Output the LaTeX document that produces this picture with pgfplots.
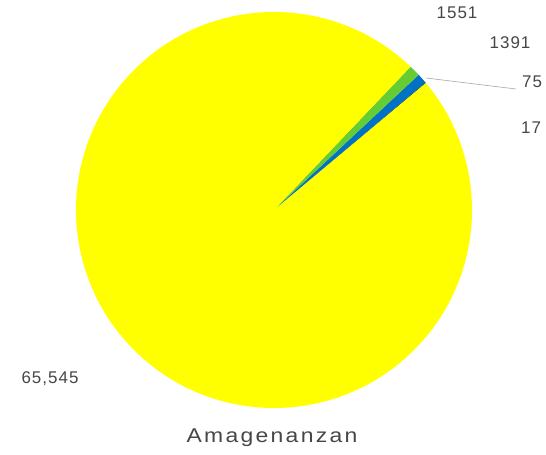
\documentclass[border=0pt]{standalone}
\usepackage{pgfplots}
\usepackage{pgfplotstable}
\pgfplotsset{compat=1.18}
\usepackage{fontspec}
\setmainfont{Liberation Sans}
\newfontfamily\lblfont[LetterSpace=6]{Liberation Sans}
\newfontfamily\ttlfont[LetterSpace=10]{Liberation Sans}
\definecolor{cyellow}{RGB}{255,255,0}
\definecolor{cgreen}{RGB}{102,204,51}
\definecolor{cblue}{RGB}{0,114,198}
\definecolor{cdark}{RGB}{30,30,30}
\definecolor{cdarker}{RGB}{60,60,60}
\definecolor{ctext}{RGB}{70,70,70}
% slices counter-clockwise from the start angle; lx, ly = label position
\pgfplotstableread[string type]{
label value col lx ly
17 17 cdarker 531 327
75 75 cdark 532 373
1391 1391 cblue 510 412
1551 1551 cgreen 457 442
65,545 165545 cyellow 50 76
}\piedata
\begin{document}
\begin{tikzpicture}
\begin{axis}[hide axis, scale only axis, width=546bp, height=455bp,
  xmin=0, xmax=546, ymin=0, ymax=455, clip=false]
\def\tot{0}
\pgfplotsforeachungrouped \i in {0,...,4}{%
  \pgfplotstablegetelem{\i}{value}\of\piedata
  \edef\tot{\fpeval{\tot+\pgfplotsretval}}%
}
\def\cum{0}
\def\startang{39.9}
\pgfplotsforeachungrouped \i in {0,...,4}{%
  \pgfplotstablegetelem{\i}{value}\of\piedata
  \edef\v{\pgfplotsretval}%
  \edef\aS{\fpeval{round(\startang+360*\cum/\tot,4)}}%
  \edef\cum{\fpeval{\cum+\v}}%
  \edef\aE{\fpeval{round(\startang+360*\cum/\tot,4)}}%
  \pgfplotstablegetelem{\i}{col}\of\piedata
  \edef\col{\pgfplotsretval}%
  \edef\tmp{\noexpand\fill[\col] (axis cs:274,245) -- ++(\aS:198bp) arc[start angle=\aS, end angle=\aE, radius=198bp] -- cycle;}%
  \tmp
}
% leader line for the 75 slice
\draw[gray!70, line width=0.6pt] (axis cs:426,377) -- (axis cs:516,366);
\pgfplotsforeachungrouped \i in {0,...,4}{%
  \pgfplotstablegetelem{\i}{label}\of\piedata \edef\lab{\pgfplotsretval}%
  \pgfplotstablegetelem{\i}{lx}\of\piedata \edef\lx{\pgfplotsretval}%
  \pgfplotstablegetelem{\i}{ly}\of\piedata \edef\ly{\pgfplotsretval}%
  \edef\tmp{\noexpand\node[ctext, inner sep=0pt, font=\noexpand\lblfont\noexpand\fontsize{17}{17}\noexpand\selectfont] at (axis cs:\lx,\ly) {\lab};}%
  \tmp
}
\node[ctext, inner sep=0pt, font=\ttlfont\fontsize{20}{20}\selectfont, xscale=1.15] at (axis cs:272,17) {Amagenanzan};
\end{axis}
\pgfresetboundingbox
\path (0,0) rectangle (546bp,455bp);
\end{tikzpicture}
\end{document}
